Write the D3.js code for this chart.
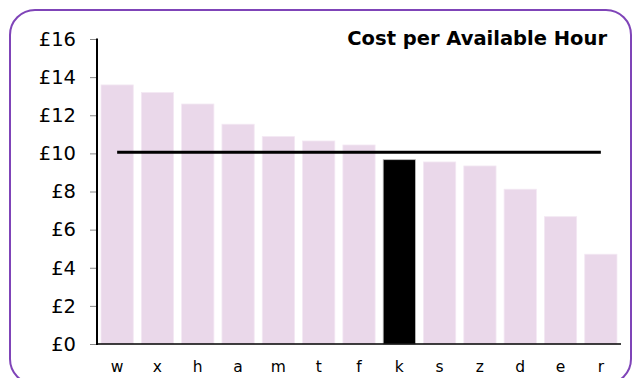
<!DOCTYPE html>
<html><head><meta charset="utf-8">
<script src="https://cdn.jsdelivr.net/npm/d3@7"></script>
<style>body{margin:0;background:#fff}svg{display:block}</style>
</head><body>
<svg id="c" width="640" height="378"></svg>
<script>
const categories = ["w","x","h","a","m","t","f","k","s","z","d","e","r"];
const values = [13.59,13.19,12.59,11.53,10.88,10.65,10.44,9.67,9.55,9.34,8.12,6.68,4.71];
const highlight = "k";
const average = 10.06;
const yTicks = [0,2,4,6,8,10,12,14,16];
const title = "Cost per Available Hour";

const svg = d3.select("#c");
const m = {left:97, right:621, top:39, bottom:344};

svg.append("rect").attr("x",10).attr("y",10).attr("width",621).attr("height",374)
  .attr("rx",25).attr("ry",25).attr("fill","#fff").attr("stroke","#7f44b8").attr("stroke-width",2);

const x = d3.scaleBand().domain(categories).range([m.left,m.right]).paddingInner(0.2).paddingOuter(0.1);
const y = d3.scaleLinear().domain([0,16]).range([m.bottom,m.top]);

svg.append("g").selectAll("rect").data(categories).join("rect")
  .attr("x",d=>x(d)).attr("width",x.bandwidth())
  .attr("y",(d,i)=>y(values[i])).attr("height",(d,i)=>y(0)-y(values[i]))
  .attr("fill",d=>d===highlight?"#000":"#ead8ea")
  .attr("stroke",d=>d===highlight?"#bbb":"#f3e8f3").attr("stroke-width",0.8);

// y axis
const ya = svg.append("g").attr("transform",`translate(${m.left},0)`)
  .call(d3.axisLeft(y).tickValues(yTicks).tickFormat(d=>"£"+d).tickSize(7).tickPadding(14));
ya.select(".domain").remove();
ya.selectAll(".tick line").attr("stroke","#888").attr("stroke-width",1);
ya.selectAll("text").attr("font-family","DejaVu Sans, Verdana, sans-serif").attr("font-size",19.5).attr("fill","#000");
svg.append("line").attr("x1",m.left).attr("x2",m.left).attr("y1",m.top-0.5).attr("y2",m.bottom+1)
  .attr("stroke","#000").attr("stroke-width",2);

// x axis
const xa = svg.append("g").attr("transform",`translate(0,${m.bottom})`)
  .call(d3.axisBottom(x).tickSize(0).tickPadding(17));
xa.select(".domain").remove();
xa.selectAll("text").attr("font-family","DejaVu Sans, Verdana, sans-serif").attr("font-size",15.5).attr("fill","#000");
svg.append("line").attr("x1",m.left).attr("x2",m.right).attr("y1",m.bottom).attr("y2",m.bottom)
  .attr("stroke","#000").attr("stroke-width",1.5);

// average line
svg.append("line")
  .attr("x1",x(categories[0])+x.bandwidth()/2).attr("x2",x(categories[categories.length-1])+x.bandwidth()/2)
  .attr("y1",y(average)).attr("y2",y(average)).attr("stroke","#000").attr("stroke-width",3);

svg.append("text").attr("x",607).attr("y",45).attr("text-anchor","end")
  .attr("font-family","DejaVu Sans, Verdana, sans-serif").attr("font-weight","bold").attr("font-size",19.5)
  .attr("fill","#000").text(title);
</script>
</body></html>
